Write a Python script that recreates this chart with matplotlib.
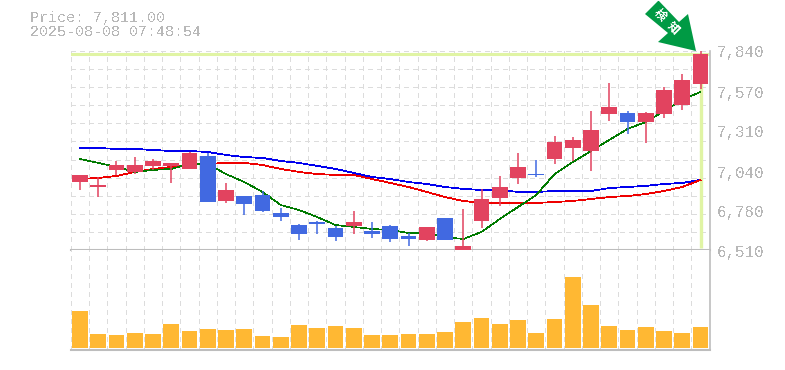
import numpy as np
import matplotlib
matplotlib.use("Agg")
import matplotlib.pyplot as plt
from matplotlib.patches import Polygon

plt.rcParams['font.family'] = ['Liberation Mono', 'Noto Sans CJK JP', 'DejaVu Sans']
plt.rcParams['text.antialiased'] = False

# data
dates = ["6/20", "6/23", "6/24", "6/25", "6/26", "6/27", "6/30", "7/1", "7/2", "7/3", "7/4", "7/7",
         "7/8", "7/9", "7/10", "7/11", "7/14", "7/15", "7/16", "7/17", "7/18", "7/22", "7/23", "7/24",
         "7/25", "7/28", "7/29", "7/30", "7/31", "8/1", "8/4", "8/5", "8/6", "8/7", "8/8"]
opens = [6962, 6929, 7042, 7029, 7069, 7069, 7049, 7135, 6836, 6869, 6876, 6756,
         6676, 6696, 6656, 6670, 6636, 6670, 6603, 6576, 6723, 6470, 6703, 6856,
         6989, 7015, 7115, 7188, 7168, 7414, 7421, 7361, 7414, 7474, 7614]
highs = [7009, 6995, 7102, 7128, 7115, 7089, 7162, 7155, 6956, 6869, 6902, 6789,
         6683, 6703, 6670, 6769, 6696, 6676, 6623, 6663, 6723, 6783, 6916, 7002,
         7155, 7109, 7268, 7261, 7434, 7621, 7434, 7428, 7594, 7680, 7840]
lows = [6909, 6862, 7009, 7015, 7042, 6956, 7049, 6829, 6823, 6743, 6763, 6703,
        6576, 6616, 6570, 6616, 6590, 6563, 6537, 6570, 6576, 6470, 6656, 6803,
        6949, 6995, 7082, 7102, 7035, 7368, 7281, 7222, 7388, 7441, 7581]
closes = [7009, 6942, 7075, 7075, 7102, 7089, 7155, 6829, 6909, 6816, 6769, 6729,
          6616, 6683, 6596, 6696, 6616, 6583, 6583, 6663, 6576, 6537, 6849, 6929,
          7062, 7009, 7228, 7242, 7308, 7461, 7361, 7421, 7574, 7640, 7811]
ma_short = [7115, 7089, 7062, 7029, 7042, 7049, 7082, 7082, 7015, 6962, 6896, 6809,
            6776, 6729, 6676, 6663, 6650, 6643, 6623, 6623, 6596, 6583, 6630, 6716,
            6796, 6876, 7015, 7095, 7168, 7242, 7315, 7361, 7434, 7508, 7561]
ma_mid = [6982, 6989, 7002, 7029, 7049, 7062, 7075, 7082, 7089, 7089, 7075, 7049,
          7029, 7015, 7009, 7009, 6982, 6956, 6929, 6896, 6862, 6836, 6823, 6823,
          6823, 6823, 6829, 6836, 6849, 6862, 6869, 6882, 6902, 6929, 6976]
ma_long = [7188, 7188, 7182, 7182, 7175, 7168, 7168, 7162, 7142, 7128, 7122, 7102,
           7089, 7069, 7049, 7022, 6995, 6982, 6962, 6949, 6929, 6916, 6909, 6909,
           6896, 6896, 6902, 6902, 6902, 6922, 6929, 6936, 6949, 6956, 6976]
volumes = [37, 14, 13, 15, 14, 24, 17, 19, 18, 19, 12, 11, 23, 20, 22, 20, 13, 13,
           14, 14, 16, 26, 30, 24, 28, 15, 29, 71, 43, 22, 18, 21, 17, 15, 21]
price_labels = [7840, 7570, 7310, 7040, 6780, 6510]
date_label_idx = [4, 9, 14, 19, 24, 29, 34]
last_price = 7811

W, H = 785, 370
UP = "#e2435f"
DOWN = "#4169e1"
FRAME = "#bdbdbd"
GRID = "#dcdcdc"
TXT = "#b8b8b8"
LEMON = "#e0f4a4"
x = np.arange(len(dates))
opens, highs, lows, closes = map(np.array, (opens, highs, lows, closes))

fig = plt.figure(figsize=(W / 100, H / 100), dpi=100)


def make_axes(left, top, right, bottom):
    return fig.add_axes([left / W, 1 - bottom / H, (right - left) / W, (bottom - top) / H])


ax = make_axes(70.5, 51, 709.5, 250)
vol = make_axes(70.5, 250, 709.5, 349.5)

for a in (ax, vol):
    a.set_xlim(-0.52, 34.49)
    a.set_xticks(x[:-1] + 0.5)
    a.set_xticks([-0.5], minor=True)
    a.grid(True, axis="x", which="both", color=GRID, lw=1, ls=(0, (3, 3)), antialiased=False)
    a.tick_params(which="both", length=0, labelbottom=False, labelleft=False)
    a.set_axisbelow(True)
    a.spines["left"].set_visible(False)
    a.spines["top"].set_visible(False)
    a.spines["right"].set_color(FRAME)
    a.spines["bottom"].set_color(FRAME)
    a.spines["right"].set_linewidth(1.2)
    a.spines["bottom"].set_linewidth(1.5)

ymin, ymax = 6510, 7833
ax.set_ylim(ymin, ymax)
ax.set_yticks(np.linspace(ymin, ymax, 12))
ax.grid(True, axis="y", color=GRID, lw=1, ls=(0, (3, 3)), antialiased=False)

# current price marker lines
ax.axhline(last_price, color=LEMON, lw=2.2, zorder=1)
ax.vlines(x[-1] + 0.03, 6525, last_price, color=LEMON, lw=2.4, zorder=1)

# moving averages sit behind the candles
ax.plot(x, ma_long, color="#0000ee", lw=0.55, zorder=2, antialiased=False)
ax.plot(x, ma_mid, color="#ee0000", lw=0.55, zorder=2, antialiased=False)
ax.plot(x, ma_short, color="#007a00", lw=0.45, zorder=2, antialiased=False)

# candles
colors = [UP if c >= o else DOWN for o, c in zip(opens, closes)]
ax.vlines(x, lows, highs, color=colors, lw=1.1, zorder=3)
ax.bar(x, np.maximum(np.abs(closes - opens), 7), bottom=np.minimum(opens, closes),
       width=0.87, color=colors, zorder=3)

# volume
vol.set_ylim(-1.2, 98)
vol.set_yticks([])
vol.bar(x, volumes, width=0.87, color="#ffb833", zorder=3)

# axis text
for p in price_labels:
    ax.annotate(f"{p:,}", xy=(1, p), xycoords=ax.get_yaxis_transform(), xytext=(7.5, -3),
                textcoords="offset pixels", fontsize=11.3, color=TXT, va="center",
                annotation_clip=False)
for i in date_label_idx:
    ax.annotate(dates[i], xy=(i, ymin), xytext=(0, -11), textcoords="offset pixels",
                fontsize=7.4, color=TXT, ha="center", va="center", annotation_clip=False)

fig.text(30 / W, 1 - 18 / H, f"Price: {last_price:,}.00", fontsize=10.8, color=TXT, va="center")
fig.text(30 / W, 1 - 32.5 / H, "2025-08-08 07:48:54", fontsize=10.8, color=TXT, va="center")

# green arrow with label
arrow_px = [(659, 0), (645, 14), (668, 33), (658, 42), (696, 51), (688, 14), (679, 22), (658, 0)]
fig.add_artist(Polygon([(px / W, 1 - py / H) for px, py in arrow_px], closed=True,
                       transform=fig.transFigure, color="#009a44", lw=0, zorder=6))
for ch, cx, cy in [("検", 660, 15), ("知", 673, 28)]:
    fig.text(cx / W, 1 - cy / H, ch, fontsize=8.5, fontweight="bold", color="white", rotation=-45,
             rotation_mode="anchor", ha="center", va="center", zorder=7,
             family=['Noto Sans CJK JP', 'DejaVu Sans'])

fig.savefig("out.png", dpi=100)
